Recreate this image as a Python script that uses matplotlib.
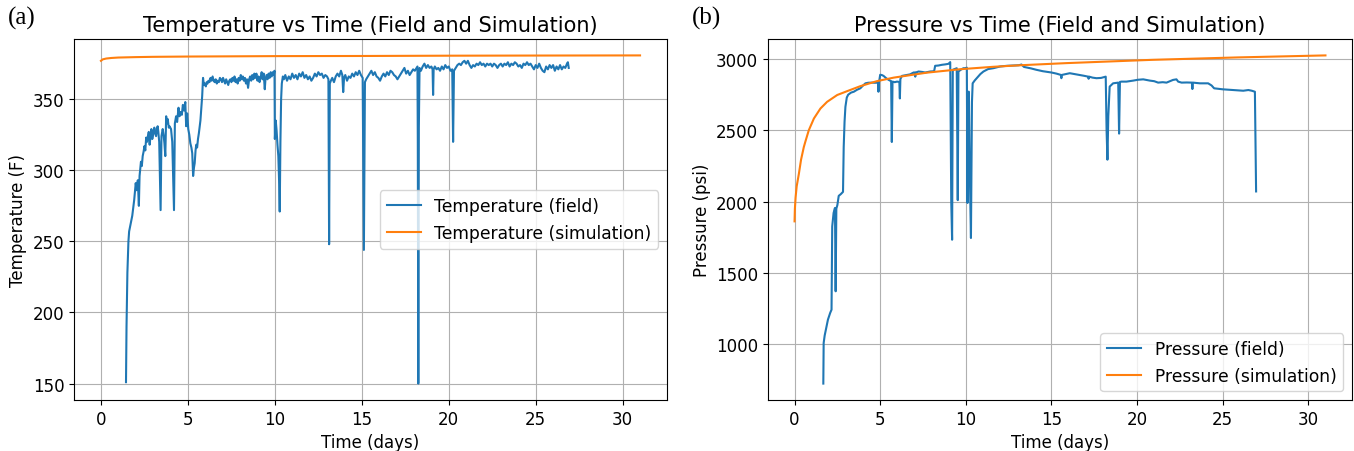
import matplotlib
matplotlib.use("Agg")
import matplotlib.pyplot as plt

# ---------------- data ----------------
# Temperature (field): (time in days, temperature in F)
temp_field_points = [
    (1.44, 151), (1.47, 190), (1.52, 228), (1.58, 250), (1.62, 257), (1.70, 262), (1.80, 268),
    (1.91, 279), (2.00, 291), (2.05, 286), (2.12, 293), (2.18, 275), (2.22, 296), (2.30, 306),
    (2.35, 303), (2.40, 310), (2.45, 313), (2.50, 317), (2.55, 314), (2.60, 323), (2.65, 320),
    (2.70, 324), (2.75, 327), (2.80, 318), (2.85, 324), (2.90, 329), (2.95, 322), (3.00, 325),
    (3.07, 330), (3.12, 326), (3.17, 324), (3.22, 329), (3.26, 331), (3.30, 327), (3.35, 320),
    (3.43, 272), (3.48, 324), (3.55, 329), (3.60, 325), (3.65, 319), (3.70, 310), (3.75, 338),
    (3.80, 333), (3.84, 336), (3.90, 330), (3.94, 331), (4.03, 329), (4.10, 320), (4.20, 272),
    (4.25, 333), (4.32, 338), (4.38, 334), (4.46, 344), (4.52, 338), (4.58, 341), (4.65, 339),
    (4.71, 346), (4.78, 342), (4.85, 348), (4.90, 331), (4.96, 340), (5.02, 329), (5.08, 325),
    (5.14, 319), (5.20, 316), (5.25, 312), (5.30, 296), (5.35, 302), (5.39, 305), (5.44, 314),
    (5.48, 318), (5.53, 316), (5.58, 322), (5.63, 326), (5.68, 331), (5.72, 335), (5.77, 343),
    (5.82, 352), (5.87, 365), (5.92, 360), (5.97, 361), (6.03, 359), (6.08, 362), (6.13, 361),
    (6.18, 363), (6.24, 362), (6.30, 365), (6.36, 363), (6.42, 366), (6.48, 363), (6.54, 362),
    (6.60, 364), (6.66, 361), (6.72, 363), (6.78, 362), (6.84, 365), (6.90, 364), (6.96, 362),
    (7.02, 365), (7.08, 363), (7.14, 361), (7.20, 364), (7.26, 362), (7.32, 360), (7.38, 363),
    (7.44, 364), (7.50, 362), (7.56, 365), (7.62, 363), (7.68, 366), (7.74, 362), (7.80, 364),
    (7.86, 361), (7.92, 365), (7.98, 363), (8.04, 367), (8.10, 364), (8.16, 366), (8.22, 363),
    (8.28, 365), (8.34, 361), (8.40, 364), (8.46, 358), (8.52, 364), (8.58, 366), (8.64, 363),
    (8.70, 367), (8.76, 364), (8.82, 368), (8.88, 365), (8.94, 368), (9.00, 363), (9.06, 366),
    (9.12, 362), (9.18, 365), (9.24, 369), (9.30, 364), (9.36, 368), (9.42, 357), (9.46, 364),
    (9.52, 367), (9.58, 364), (9.64, 368), (9.70, 365), (9.76, 369), (9.82, 366), (9.88, 369),
    (9.94, 367), (9.98, 370), (10.00, 322), (10.05, 335), (10.10, 328), (10.15, 318),
    (10.20, 310), (10.25, 290), (10.28, 271), (10.32, 320), (10.36, 350), (10.40, 361),
    (10.46, 366), (10.52, 364), (10.60, 367), (10.70, 363), (10.80, 366), (10.90, 364),
    (11.00, 368), (11.10, 365), (11.20, 367), (11.30, 364), (11.40, 368), (11.50, 366),
    (11.60, 369), (11.70, 365), (11.80, 367), (11.90, 364), (12.00, 366), (12.10, 363),
    (12.20, 365), (12.30, 368), (12.40, 366), (12.50, 369), (12.60, 367), (12.70, 368),
    (12.80, 365), (12.90, 367), (13.00, 366), (13.08, 364), (13.12, 248), (13.16, 361),
    (13.22, 363), (13.30, 365), (13.40, 362), (13.50, 366), (13.60, 368), (13.70, 366),
    (13.80, 370), (13.88, 367), (13.93, 355), (13.98, 365), (14.05, 367), (14.15, 363),
    (14.25, 366), (14.35, 365), (14.45, 368), (14.55, 366), (14.65, 369), (14.75, 367),
    (14.85, 370), (14.95, 367), (15.05, 365), (15.12, 244), (15.18, 362), (15.25, 364),
    (15.35, 366), (15.45, 368), (15.55, 370), (15.65, 367), (15.75, 369), (15.85, 366),
    (15.95, 365), (16.05, 363), (16.15, 366), (16.25, 368), (16.35, 366), (16.45, 369),
    (16.55, 367), (16.65, 370), (16.75, 369), (16.85, 367), (16.95, 366), (17.05, 364),
    (17.15, 366), (17.25, 368), (17.35, 370), (17.45, 372), (17.55, 368), (17.65, 370),
    (17.75, 367), (17.85, 369), (17.95, 371), (18.05, 370), (18.15, 372), (18.20, 373),
    (18.22, 322), (18.25, 150), (18.28, 330), (18.32, 372), (18.40, 370), (18.50, 373),
    (18.60, 375), (18.70, 372), (18.80, 374), (18.90, 372), (19.00, 373), (19.07, 371),
    (19.10, 353), (19.13, 371), (19.20, 373), (19.30, 371), (19.40, 372), (19.50, 370),
    (19.60, 373), (19.70, 371), (19.80, 374), (19.90, 372), (20.00, 373), (20.10, 370),
    (20.20, 371), (20.25, 320), (20.30, 370), (20.40, 372), (20.50, 374), (20.60, 375),
    (20.70, 374), (20.80, 376), (20.90, 377), (21.00, 375), (21.10, 377), (21.20, 374),
    (21.30, 372), (21.40, 374), (21.50, 373), (21.60, 375), (21.70, 374), (21.80, 376),
    (21.90, 374), (22.00, 375), (22.10, 373), (22.20, 375), (22.30, 374), (22.40, 375),
    (22.50, 373), (22.60, 375), (22.70, 374), (22.80, 372), (22.90, 374), (23.00, 375),
    (23.10, 373), (23.20, 375), (23.30, 374), (23.40, 376), (23.50, 373), (23.60, 375),
    (23.70, 374), (23.80, 376), (23.90, 375), (24.00, 373), (24.10, 374), (24.20, 372),
    (24.30, 375), (24.40, 374), (24.50, 376), (24.60, 374), (24.70, 375), (24.80, 373),
    (24.90, 371), (25.00, 374), (25.10, 372), (25.20, 375), (25.30, 372), (25.40, 370),
    (25.50, 369), (25.60, 373), (25.70, 371), (25.80, 374), (25.90, 372), (26.00, 374),
    (26.10, 370), (26.20, 373), (26.30, 371), (26.40, 374), (26.50, 371), (26.60, 373),
    (26.70, 372), (26.80, 375), (26.85, 376), (26.90, 372),
]
temp_field_t, temp_field_v = zip(*temp_field_points)

temp_sim_t = [0, 0.1, 0.3, 0.6, 1.0, 2.0, 3.0, 5.0, 10.0, 15.0, 20.0, 25.0, 31.0]
temp_sim_v = [377, 378, 378.6, 379, 379.3, 379.6, 379.8, 380, 380.3, 380.4, 380.6, 380.7, 380.8]

# Pressure (field): (time in days, pressure in psi)
pres_field_points = [
    (1.68, 722), (1.70, 1007), (1.76, 1060), (1.83, 1100), (1.95, 1171), (2.08, 1218),
    (2.16, 1241), (2.20, 1826), (2.28, 1920), (2.36, 1955), (2.40, 1370), (2.44, 1950),
    (2.50, 1975), (2.58, 2040), (2.70, 2052), (2.83, 2068), (2.87, 2382), (2.92, 2560),
    (2.97, 2665), (3.05, 2730), (3.13, 2750), (3.30, 2765), (3.46, 2771), (3.65, 2785),
    (3.84, 2795), (4.00, 2815), (4.14, 2830), (4.30, 2834), (4.52, 2835), (4.70, 2834),
    (4.87, 2835), (4.90, 2771), (4.93, 2835), (5.00, 2890), (5.10, 2888), (5.20, 2882),
    (5.35, 2866), (5.50, 2854), (5.64, 2845), (5.68, 2418), (5.72, 2842), (5.85, 2838),
    (5.98, 2842), (6.12, 2840), (6.15, 2724), (6.18, 2860), (6.27, 2882), (6.40, 2885),
    (6.56, 2889), (6.75, 2893), (6.95, 2906), (7.02, 2906), (7.05, 2877), (7.08, 2906),
    (7.24, 2913), (7.45, 2910), (7.63, 2906), (7.80, 2910), (7.92, 2913), (8.15, 2915),
    (8.21, 2953), (8.40, 2955), (8.60, 2960), (8.80, 2963), (8.99, 2967), (9.09, 2979),
    (9.15, 2000), (9.20, 1732), (9.24, 2925), (9.35, 2930), (9.47, 2936), (9.53, 2010),
    (9.57, 2913), (9.70, 2925), (9.86, 2936), (9.96, 2936), (10.06, 2940), (10.10, 1990),
    (10.13, 2771), (10.18, 2771), (10.22, 2300), (10.30, 1744), (10.36, 2700), (10.40, 2830),
    (10.52, 2850), (10.64, 2866), (10.85, 2895), (11.03, 2913), (11.30, 2930), (11.60, 2936),
    (12.00, 2948), (12.40, 2953), (12.80, 2955), (13.10, 2957), (13.25, 2962), (13.40, 2945),
    (13.80, 2935), (14.12, 2925), (14.50, 2915), (15.00, 2906), (15.30, 2898), (15.55, 2889),
    (15.58, 2866), (15.61, 2889), (16.07, 2901), (16.35, 2895), (16.66, 2889), (16.90, 2883),
    (17.14, 2877), (17.17, 2862), (17.20, 2877), (17.40, 2870), (17.63, 2866), (17.90, 2868),
    (18.17, 2877), (18.22, 2500), (18.27, 2294), (18.32, 2600), (18.40, 2807), (18.60, 2830),
    (18.90, 2835), (18.95, 2477), (19.00, 2840), (19.09, 2842), (19.38, 2842), (19.77, 2849),
    (20.05, 2855), (20.36, 2858), (20.75, 2849), (21.00, 2845), (21.23, 2835), (21.50, 2838),
    (21.72, 2835), (22.10, 2854), (22.30, 2858), (22.40, 2842), (22.60, 2835), (22.90, 2836),
    (23.20, 2835), (23.23, 2790), (23.26, 2835), (23.67, 2830), (24.15, 2830), (24.35, 2815),
    (24.50, 2795), (25.00, 2788), (25.60, 2783), (26.20, 2778), (26.50, 2783), (26.70, 2778),
    (26.88, 2771), (26.92, 2400), (26.95, 2071),
]
pres_field_t, pres_field_v = zip(*pres_field_points)

pres_sim_t = [0, 0.02, 0.06, 0.125, 0.25, 0.38, 0.54, 0.63, 0.83, 1.13, 1.51, 1.9, 2.49, 3.07,
              3.84, 4.8, 5.79, 7.73, 9.67, 11.6, 13.2, 15.9, 20.9, 25.9, 31.0]
pres_sim_v = [1861, 1950, 2028, 2107, 2193, 2294, 2382, 2420, 2500, 2583, 2653, 2700, 2748, 2775,
              2810, 2845, 2870, 2905, 2929, 2946, 2957, 2972, 2995, 3012, 3026]

titles = ["Temperature vs Time (Field and Simulation)", "Pressure vs Time (Field and Simulation)"]
ylabels = ["Temperature (F)", "Pressure (psi)"]
xlabel = "Time (days)"
xticks = [0, 5, 10, 15, 20, 25, 30]
temp_yticks = [150, 200, 250, 300, 350]
pres_yticks = [1000, 1500, 2000, 2500, 3000]
panel_labels = ["(a)", "(b)"]

# ---------------- figure ----------------
W, H = 1354, 452
fig = plt.figure(figsize=(W / 100, H / 100), dpi=100)

def box(x0, x1, y0, y1):
    return [x0 / W, (H - y1) / H, (x1 - x0) / W, (y1 - y0) / H]

ax1 = fig.add_axes(box(74, 667, 40, 401))
ax2 = fig.add_axes(box(768, 1352, 40, 401))

fs_tick = 12
fs_label = 12
fs_title = 15
fs_leg = 12.3

ax1.plot(temp_field_t, temp_field_v, color="C0", lw=1.5, label="Temperature (field)")
ax1.plot(temp_sim_t, temp_sim_v, color="C1", lw=1.5, label="Temperature (simulation)")
ax1.set_title(titles[0], fontsize=fs_title)
ax1.set_xlabel(xlabel, fontsize=fs_label)
ax1.set_ylabel(ylabels[0], fontsize=fs_label)
ax1.set_yticks(temp_yticks)
ax1.legend(loc="center right", fontsize=fs_leg)

ax2.plot(pres_field_t, pres_field_v, color="C0", lw=1.5, label="Pressure (field)")
ax2.plot(pres_sim_t, pres_sim_v, color="C1", lw=1.5, label="Pressure (simulation)")
ax2.set_title(titles[1], fontsize=fs_title)
ax2.set_xlabel(xlabel, fontsize=fs_label)
ax2.set_ylabel(ylabels[1], fontsize=fs_label)
ax2.set_yticks(pres_yticks)
ax2.legend(loc="lower right", fontsize=fs_leg)

for ax in (ax1, ax2):
    ax.grid(True)
    ax.tick_params(labelsize=fs_tick)
    ax.set_xticks(xticks)

fig.text(8 / W, 1 - 18 / H, panel_labels[0], fontsize=18, family="Liberation Serif", va="center", ha="left")
fig.text(692 / W, 1 - 18 / H, panel_labels[1], fontsize=18, family="Liberation Serif", va="center", ha="left")

fig.savefig("out.png", dpi=100)
